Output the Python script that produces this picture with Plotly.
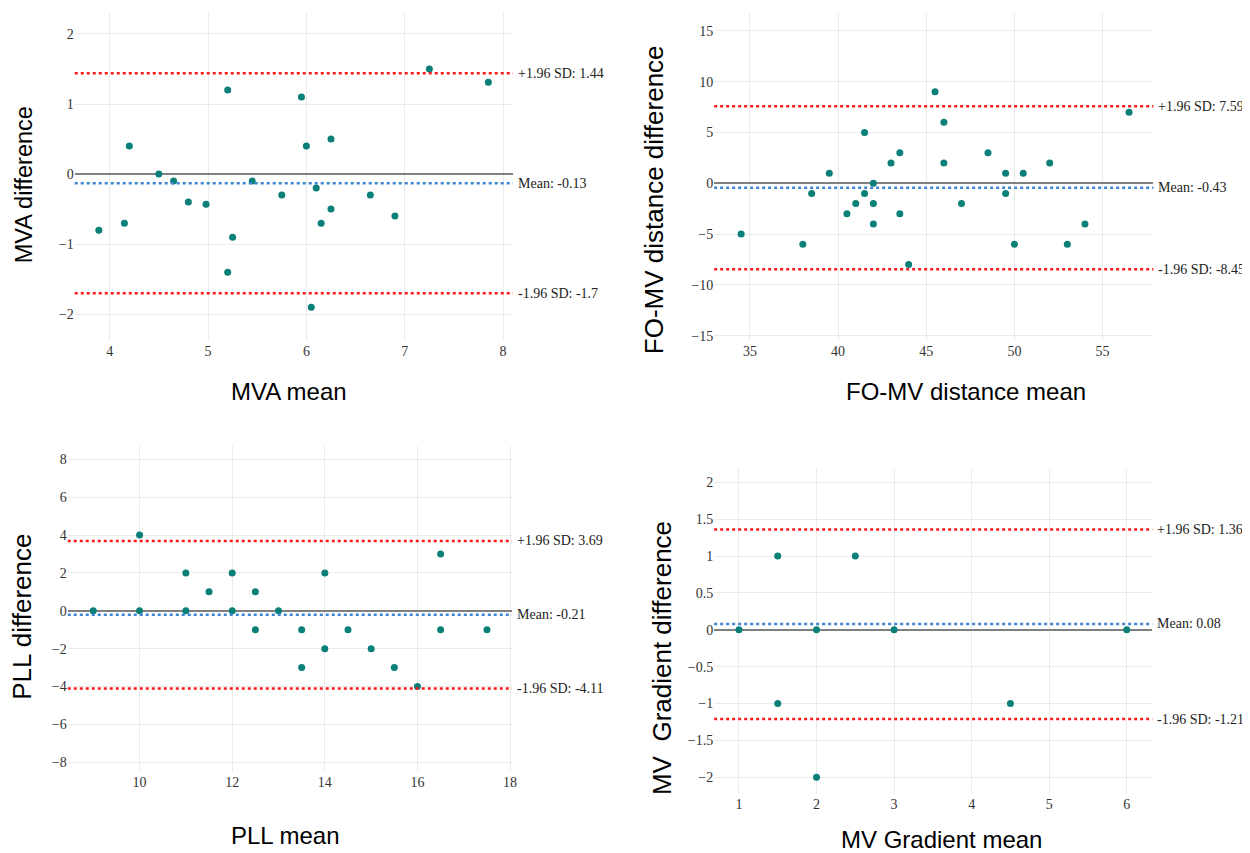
import plotly.graph_objects as go

# ---------------- data ----------------
mva_mean = [3.89, 4.15, 4.2, 4.5, 4.65, 4.8, 4.98, 5.2, 5.2, 5.25, 5.45, 5.75,
            5.95, 6.0, 6.05, 6.1, 6.15, 6.25, 6.25, 6.65, 6.9, 7.25, 7.85]
mva_diff = [-0.8, -0.7, 0.4, 0.0, -0.1, -0.4, -0.43, 1.2, -1.4, -0.9, -0.1, -0.3,
            1.1, 0.4, -1.9, -0.2, -0.7, 0.5, -0.5, -0.3, -0.6, 1.5, 1.31]
mva_stats = [-0.13, 1.44, -1.7]  # mean, +1.96 SD, -1.96 SD

fomv_mean = [34.5, 38, 38.5, 39.5, 40.5, 41, 41.5, 41.5, 42, 42, 42, 43, 43.5, 43.5,
             44, 45.5, 46, 46, 47, 48.5, 49.5, 49.5, 50, 50.5, 52, 53, 54, 56.5]
fomv_diff = [-5, -6, -1, 1, -3, -2, 5, -1, 0, -2, -4, 2, 3, -3,
             -8, 9, 6, 2, -2, 3, 1, -1, -6, 1, 2, -6, -4, 7]
fomv_stats = [-0.43, 7.59, -8.45]

pll_mean = [9, 10, 10, 11, 11, 11.5, 12, 12, 12.5, 12.5, 13, 13.5, 13.5, 14, 14,
            14.5, 15, 15.5, 16, 16.5, 16.5, 17.5]
pll_diff = [0, 4, 0, 2, 0, 1, 2, 0, 1, -1, 0, -1, -3, 2, -2,
            -1, -2, -3, -4, 3, -1, -1]
pll_stats = [-0.21, 3.69, -4.11]

grad_mean = [1, 1.5, 1.5, 2, 2, 2.5, 3, 4.5, 6]
grad_diff = [0, 1, -1, 0, -2, 1, 0, -1, 0]
grad_stats = [0.08, 1.36, -1.21]

x_titles = ["MVA mean", "FO-MV distance mean", "PLL mean", "MV Gradient mean"]
y_titles = ["MVA difference", "FO-MV distance difference", "PLL difference",
            "MV  Gradient difference"]

# ---------------- layout geometry ----------------
# page body has an 8px margin, so the figure is drawn 8px in from the corner
OFF = 8
W, H = 1250 - OFF, 853 - OFF
def px(v):
    return (v - OFF) / W
def py(v):
    return 1 - (v - OFF) / H

panels = [
    dict(xs=mva_mean, ys=mva_diff, st=mva_stats,
         xd=[px(75), px(515)], yd=[py(342), py(13)],
         xr=[3.645, 8.1], yr=[-2.38, 2.30], xdt=1, ydt=1,
         xt=(290, 393), yt=(23.5, 185.5), yts=23.5),
    dict(xs=fomv_mean, ys=fomv_diff, st=fomv_stats,
         xd=[px(717), px(1158)], yd=[py(342), py(13)],
         xr=[32.97, 57.88], yr=[-15.5, 16.76], xdt=5, ydt=5,
         xt=(970, 393), yt=(656.5, 200), yts=26),
    dict(xs=pll_mean, ys=pll_diff, st=pll_stats,
         xd=[px(68), px(514)], yd=[py(775), py(448)],
         xr=[8.45, 18.04], yr=[-8.53, 8.68], xdt=2, ydt=2,
         xt=(287, 838), yt=(22, 619), yts=26),
    dict(xs=grad_mean, ys=grad_diff, st=grad_stats,
         xd=[px(717), px(1157)], yd=[py(797), py(470)],
         xr=[0.68, 6.33], yr=[-2.23, 2.19], xdt=1, ydt=0.5,
         xt=(945.5, 842), yt=(664, 660), yts=26),
]

fig = go.Figure()
tick_font = dict(family="Liberation Serif, Times New Roman, serif", size=14, color="#333333")
title_font_family = "Liberation Sans, Arial, sans-serif"
RED = "#ff1a1a"
BLUE = "#3d85d1"
TEAL = "#0a8078"

layout = dict(
    width=W, height=H,
    margin=dict(l=0, r=0, t=0, b=0),
    paper_bgcolor="white", plot_bgcolor="white",
    showlegend=False,
)
annotations = []
shapes = []

for i, p in enumerate(panels):
    n = "" if i == 0 else str(i + 1)
    xa, ya = "x" + n, "y" + n
    fig.add_trace(go.Scatter(
        x=p["xs"], y=p["ys"], mode="markers", xaxis=xa, yaxis=ya,
        marker=dict(color=TEAL, size=7, line=dict(width=0)),
        hoverinfo="x+y",
    ))
    layout["xaxis" + n] = dict(
        domain=p["xd"], range=p["xr"], dtick=p["xdt"], tick0=0,
        anchor=ya, showgrid=True, gridcolor="#ebebeb", gridwidth=1,
        zeroline=False, showline=False, ticks="", tickfont=tick_font,
    )
    layout["yaxis" + n] = dict(
        domain=p["yd"], range=p["yr"], dtick=p["ydt"], tick0=0,
        anchor=xa, showgrid=True, gridcolor="#ebebeb", gridwidth=1,
        zeroline=True, zerolinecolor="#808080", zerolinewidth=2,
        showline=False, ticks="", tickfont=tick_font,
    )
    mean_v, up_v, lo_v = p["st"]
    for val, col, lab in [(up_v, RED, "+1.96 SD: %g" % up_v),
                          (mean_v, BLUE, "Mean: %g" % mean_v),
                          (lo_v, RED, "-1.96 SD: %g" % lo_v)]:
        shapes.append(dict(type="line", xref=xa + " domain", yref=ya,
                           x0=0, x1=1, y0=val, y1=val,
                           line=dict(color=col, width=2.5, dash="dot")))
        annotations.append(dict(xref=xa + " domain", yref=ya, x=1, y=val,
                                xanchor="left", yanchor="middle", xshift=3,
                                text=lab, showarrow=False,
                                font=dict(family="Liberation Serif, Times New Roman, serif",
                                          size=14, color="#222222")))
    # axis titles
    annotations.append(dict(xref="paper", yref="paper",
                            x=px(p["xt"][0]), y=py(p["xt"][1]),
                            xanchor="center", yanchor="middle",
                            text=x_titles[i], showarrow=False,
                            font=dict(family=title_font_family, size=24, color="black")))
    annotations.append(dict(xref="paper", yref="paper",
                            x=px(p["yt"][0]), y=py(p["yt"][1]),
                            xanchor="center", yanchor="middle", textangle=-90,
                            text=y_titles[i], showarrow=False,
                            font=dict(family=title_font_family, size=p["yts"], color="black")))

layout["shapes"] = shapes
layout["annotations"] = annotations
fig.update_layout(**layout)
fig.write_html("out.html")
